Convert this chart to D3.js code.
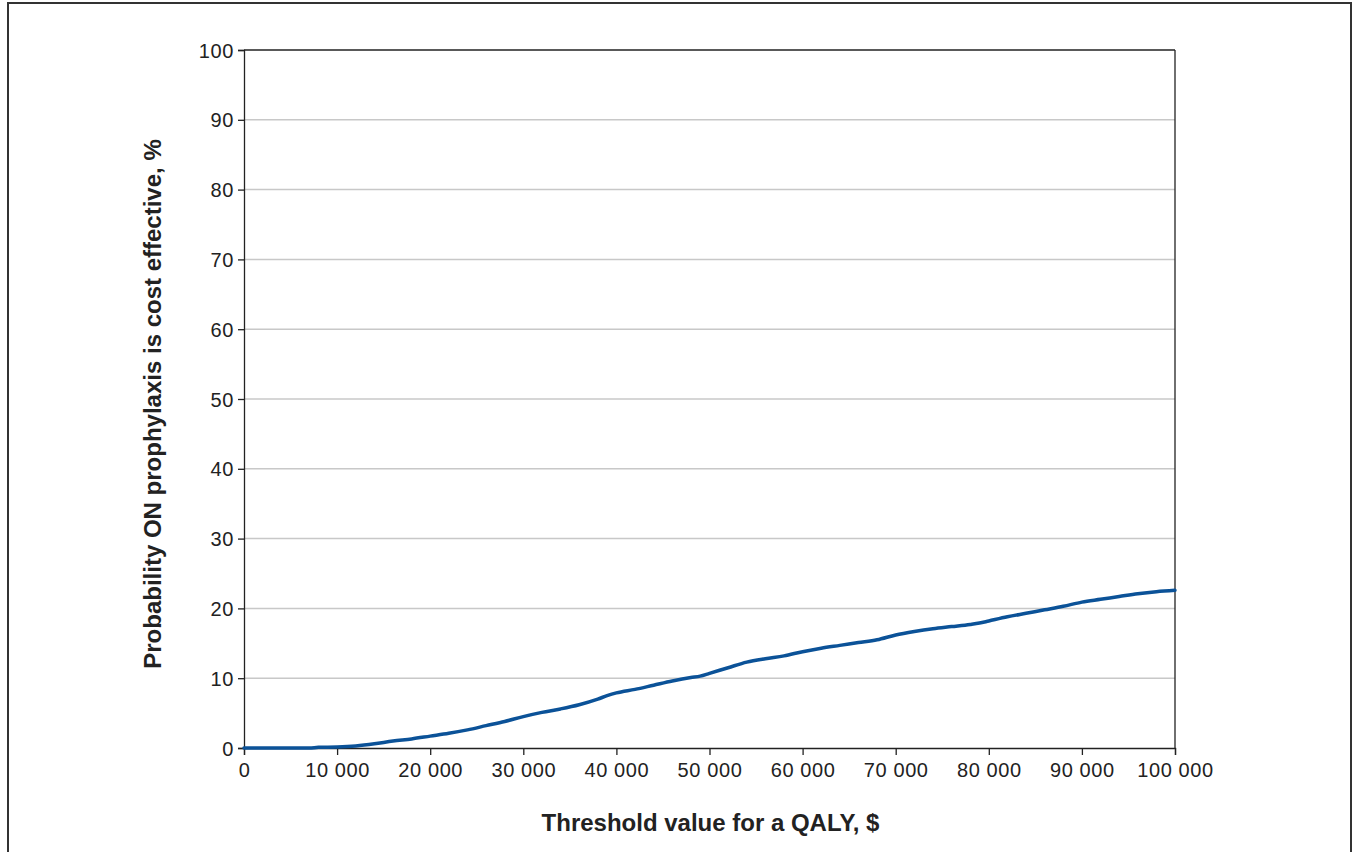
<!DOCTYPE html>
<html><head><meta charset="utf-8">
<script src="https://cdnjs.cloudflare.com/ajax/libs/d3/7.8.5/d3.min.js"></script>
<style>body{margin:0;background:#fff}svg{display:block}text{font-family:"Liberation Sans",Arial,sans-serif}</style>
</head><body><svg id="c" width="1355" height="852"></svg>
<script>
const thresholds = [0,2000,4000,6000,7000,8000,10000,12000,14000,16000,18000,20000,22000,24000,26000,28000,30000,32000,34000,36000,38000,39000,40000,42000,44000,46000,48000,49000,50000,52000,54000,56000,58000,60000,62000,64000,66000,68000,70000,72000,74000,76000,78000,79000,80000,82000,84000,86000,88000,90000,92000,94000,96000,98000,100000];
const probability = [0,0,0,0,0,0.1,0.15,0.3,0.6,1.0,1.3,1.7,2.1,2.6,3.2,3.8,4.5,5.1,5.6,6.2,7.0,7.5,7.9,8.4,9.0,9.6,10.1,10.3,10.7,11.5,12.3,12.8,13.2,13.8,14.3,14.7,15.1,15.5,16.2,16.7,17.1,17.4,17.7,17.9,18.2,18.8,19.3,19.8,20.3,20.9,21.3,21.7,22.1,22.4,22.6];
const xTicks = [0,10000,20000,30000,40000,50000,60000,70000,80000,90000,100000];
const yTicks = [0,10,20,30,40,50,60,70,80,90,100];
const xTitle = "Threshold value for a QALY, $";
const yTitle = "Probability ON prophylaxis is cost effective, %";

const svg = d3.select("#c");
const L=244, R=1175, T=50, B=748;
const x = d3.scaleLinear().domain([0,100000]).range([L,R]);
const y = d3.scaleLinear().domain([0,100]).range([B,T]);
const fmt = d => d===0 ? "0" : d3.format(",")(d).replace(/,/g," ");

// outer frame
svg.append("rect").attr("x",8).attr("y",3).attr("width",1343).attr("height",860)
  .attr("fill","none").attr("stroke","#333").attr("stroke-width",2);

// gridlines
svg.append("g").selectAll("line").data(yTicks.filter(d=>d>0&&d<100)).join("line")
  .attr("x1",L).attr("x2",R).attr("y1",d=>y(d)).attr("y2",d=>y(d))
  .attr("stroke","#c8c8c8").attr("stroke-width",1.5);

// plot frame top/right
svg.append("line").attr("x1",L).attr("x2",R).attr("y1",T).attr("y2",T).attr("stroke","#222").attr("stroke-width",1.3);
svg.append("line").attr("x1",R).attr("x2",R).attr("y1",T).attr("y2",B).attr("stroke","#222").attr("stroke-width",1.3);

// axes
const xa = svg.append("g").attr("transform",`translate(0,${B})`)
  .call(d3.axisBottom(x).tickValues(xTicks).tickFormat(fmt).tickSizeOuter(0).tickSize(7).tickPadding(7.5));
const ya = svg.append("g").attr("transform",`translate(${L},0)`)
  .call(d3.axisLeft(y).tickValues(yTicks).tickSizeOuter(0).tickSize(6).tickPadding(4));
[xa,ya].forEach(a=>{
  a.select(".domain").attr("stroke","#222").attr("stroke-width",1.3);
  a.selectAll(".tick line").attr("stroke","#222").attr("stroke-width",1.3);
  a.selectAll("text").attr("font-size",20).attr("letter-spacing","0.6px").attr("fill","#222").attr("font-family","Liberation Sans, Arial, sans-serif");
});
ya.selectAll("text").attr("dy","0.35em");

// line
svg.append("path").datum(thresholds.map((t,i)=>[t,probability[i]]))
  .attr("fill","none").attr("stroke","#0b5298").attr("stroke-width",3.5)
  .attr("stroke-linejoin","round").attr("stroke-linecap","round")
  .attr("d",d3.line().x(d=>x(d[0])).y(d=>y(d[1])).curve(d3.curveMonotoneX));

// titles
svg.append("text").attr("x",(L+R)/2+1).attr("y",831).attr("text-anchor","middle")
  .attr("font-size",24).attr("font-weight","bold").attr("fill","#222").text(xTitle);
svg.append("text").attr("transform",`translate(161,404) rotate(-90)`).attr("text-anchor","middle")
  .attr("font-size",24).attr("font-weight","bold").attr("fill","#222").text(yTitle);
</script></body></html>
